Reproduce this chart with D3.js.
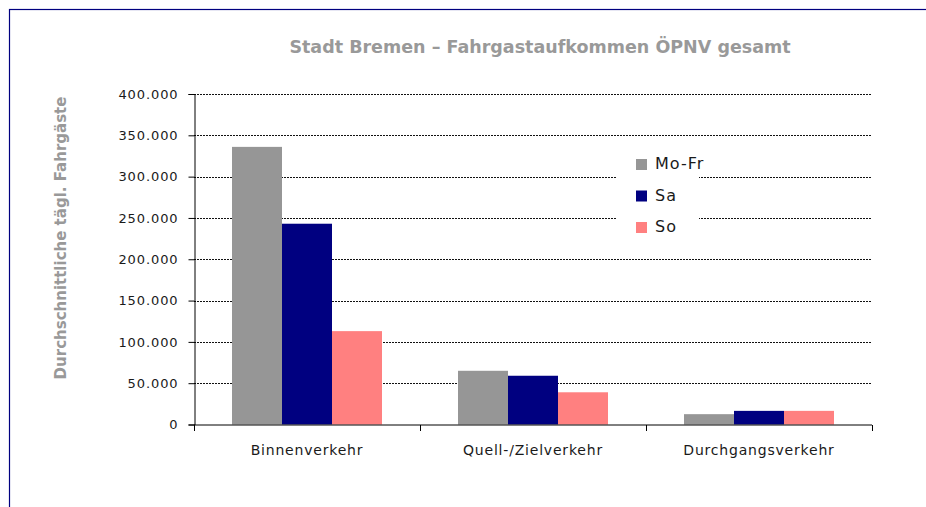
<!DOCTYPE html>
<html>
<head>
<meta charset="utf-8">
<script src="https://cdn.jsdelivr.net/npm/d3@7"></script>
<style>
	body { margin: 0; background: #fff; }
	svg { display: block; }
</style>
</head>
<body>
<div id="chart"></div>
<script>
	// Chart data
	const categories = ["Binnenverkehr", "Quell-/Zielverkehr", "Durchgangsverkehr"];
	const seriesNames = ["Mo-Fr", "Sa", "So"];
	const moFr = [336000, 65000, 12500];
	const sa = [243000, 59000, 16500];
	const so = [113000, 39000, 16500];
	const yTicks = [0, 50000, 100000, 150000, 200000, 250000, 300000, 350000, 400000];

	const seriesValues = [moFr, sa, so];
	const colors = ["#969696", "#000080", "#ff8080"];

	const width = 926;
	const height = 507;
	const margin = { top: 94, right: 54, bottom: 82.5, left: 194 };

	const svg = d3.select("#chart")
		.append("svg")
		.attr("width", width)
		.attr("height", height);

	// outer frame (only left and top visible in the picture)
	svg.append("rect")
		.attr("x", 9.5)
		.attr("y", 9.5)
		.attr("width", width + 20)
		.attr("height", height + 20)
		.attr("fill", "none")
		.attr("stroke", "#000080")
		.attr("stroke-width", 1.2);

	const x = d3.scaleBand()
		.domain(categories)
		.range([margin.left, width - margin.right])
		.padding(0);

	const xSub = d3.scaleBand()
		.domain(seriesNames)
		.range([0, x.bandwidth()])
		.paddingInner(0)
		.paddingOuter(0.76);

	const y = d3.scaleLinear()
		.domain([0, 400000])
		.range([height - margin.bottom, margin.top]);

	const fmt = d3.formatLocale({ decimal: ",", thousands: ".", grouping: [3], currency: ["", "€"] }).format(",d");

	// dashed gridlines
	svg.append("g")
		.selectAll("line")
		.data(yTicks.filter(d => d > 0))
		.join("line")
		.attr("x1", margin.left)
		.attr("x2", width - margin.right)
		.attr("y1", d => Math.round(y(d)) + 0.5)
		.attr("y2", d => Math.round(y(d)) + 0.5)
		.attr("stroke", "#111")
		.attr("stroke-width", 1)
		.attr("stroke-dasharray", "2,1");

	// bars
	const groups = svg.append("g")
		.selectAll("g")
		.data(categories)
		.join("g")
		.attr("transform", d => `translate(${x(d)},0)`);

	groups.selectAll("rect")
		.data((c, i) => seriesNames.map((s, j) => ({ series: s, value: seriesValues[j][i], color: colors[j] })))
		.join("rect")
		.attr("x", d => xSub(d.series))
		.attr("width", xSub.bandwidth())
		.attr("y", d => y(d.value))
		.attr("height", d => y(0) - y(d.value))
		.attr("fill", d => d.color);

	// y axis
	const yAxis = svg.append("g")
		.attr("transform", `translate(${margin.left + 0.5},0)`)
		.call(d3.axisLeft(y).tickValues(yTicks).tickFormat(fmt).tickSize(6).tickPadding(10));
	yAxis.select(".domain").attr("stroke", "#000");
	yAxis.selectAll(".tick line").attr("stroke", "#000");
	yAxis.selectAll("text")
		.attr("fill", "#1a1a1a")
		.style("font-family", "'DejaVu Sans', sans-serif")
		.style("font-size", "13px")
		.style("letter-spacing", "0.9px");

	// x axis (ticks at category boundaries)
	const xAxis = svg.append("g")
		.attr("transform", `translate(0,${y(0) + 0.5})`);
	xAxis.append("line")
		.attr("x1", margin.left)
		.attr("x2", width - margin.right)
		.attr("stroke", "#000");
	xAxis.selectAll(".bound")
		.data(categories.map(c => x(c)).concat([x(categories[categories.length - 1]) + x.bandwidth()]))
		.join("line")
		.attr("class", "bound")
		.attr("x1", d => Math.round(d) + 0.5)
		.attr("x2", d => Math.round(d) + 0.5)
		.attr("y1", 0)
		.attr("y2", 6)
		.attr("stroke", "#000");
	xAxis.selectAll("text")
		.data(categories)
		.join("text")
		.attr("x", d => x(d) + x.bandwidth() / 2)
		.attr("y", 30)
		.attr("text-anchor", "middle")
		.attr("fill", "#1a1a1a")
		.style("font-family", "'DejaVu Sans', sans-serif")
		.style("font-size", "14px")
		.style("letter-spacing", "0.8px")
		.text(d => d);

	// title
	svg.append("text")
		.attr("x", 540)
		.attr("y", 53)
		.attr("text-anchor", "middle")
		.attr("fill", "#999")
		.style("font-family", "'DejaVu Sans', sans-serif")
		.style("font-weight", "bold")
		.style("font-size", "17.5px")
		.text("Stadt Bremen \u2013 Fahrgastaufkommen \u00d6PNV gesamt");

	// y axis title
	svg.append("text")
		.attr("transform", `translate(66,238) rotate(-90)`)
		.attr("text-anchor", "middle")
		.attr("fill", "#999")
		.style("font-family", "'DejaVu Sans', sans-serif")
		.style("font-weight", "bold")
		.style("font-size", "15px")
		.text("Durchschnittliche t\u00e4gl. Fahrg\u00e4ste");

	// legend
	const legend = svg.append("g")
		.attr("transform", "translate(617,145)");
	legend.append("rect")
		.attr("width", 82)
		.attr("height", 96)
		.attr("fill", "#fff");
	const item = legend.selectAll(".item")
		.data(seriesNames)
		.join("g")
		.attr("class", "item")
		.attr("transform", (d, i) => `translate(19,${14 + i * 31.5})`);
	item.append("rect")
		.attr("width", 11)
		.attr("height", 11)
		.attr("fill", (d, i) => colors[i]);
	item.append("text")
		.attr("x", 19)
		.attr("y", 10)
		.attr("fill", "#1a1a1a")
		.style("font-family", "'DejaVu Sans', sans-serif")
		.style("font-size", "16px")
		.style("letter-spacing", "1px")
		.text(d => d);
</script>
</body>
</html>
